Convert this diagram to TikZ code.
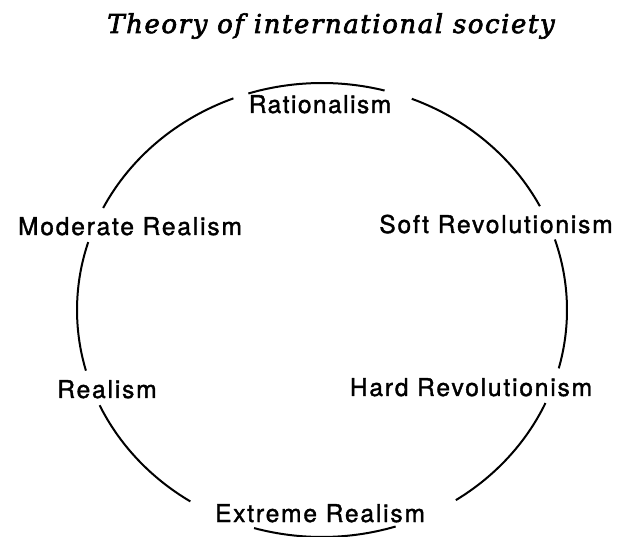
\documentclass[tikz,border=0pt]{standalone}
\usepackage{fontspec}
\newfontfamily\lblfont[LetterSpace=7.5,FakeBold=1.5]{TeX Gyre Heros}
\newfontfamily\lblfontR[LetterSpace=6,FakeBold=1.5]{TeX Gyre Heros}
\newfontfamily\titlefont[LetterSpace=6,FakeBold=2.5]{DejaVu Serif}
\tikzset{
  ring/.style={line width=2pt, black},
  lbl/.style={anchor=base, inner sep=0pt, font=\lblfont\fontsize{24.5}{28}\selectfont},
  lblR/.style={anchor=base, inner sep=0pt, font=\lblfontR\fontsize{24.5}{28}\selectfont},
  ttl/.style={anchor=base, inner sep=0pt, font=\titlefont\itshape\fontsize{26}{30}\selectfont}
}
\begin{document}
\begin{tikzpicture}[x=1pt,y=-1pt]
\useasboundingbox (0,0) rectangle (619,537);
\coordinate (c) at (322,310);
% title
\node[ttl] (title) at (331,33) {Theory of international society};
% labels
\node[lblR] (rat) at (320,113) {Rationalism};
\node[lbl] (mod) at (130,235) {Moderate Realism};
\node[lbl] (soft) at (496,233) {Soft Revolutionism};
\node[lbl] (real) at (107,398) {Realism};
\node[lbl] (hard) at (471,396) {Hard Revolutionism};
\node[lbl] (ext) at (320,522) {Extreme Realism};
% ring segments (ellipse centre c, radii 245 x 227)
\foreach \a/\b in {-107.5/-75.2, -68.5/-27.2, -18.1/14.9, 24.2/56.9, 72.5/106.1, 122.5/155.2, 164.5/197.4, 206.7/248.8}{
  \draw[ring] (c) ++(\a:245 and 227) arc[start angle=\a, end angle=\b, x radius=245, y radius=227];
}
\end{tikzpicture}
\end{document}
